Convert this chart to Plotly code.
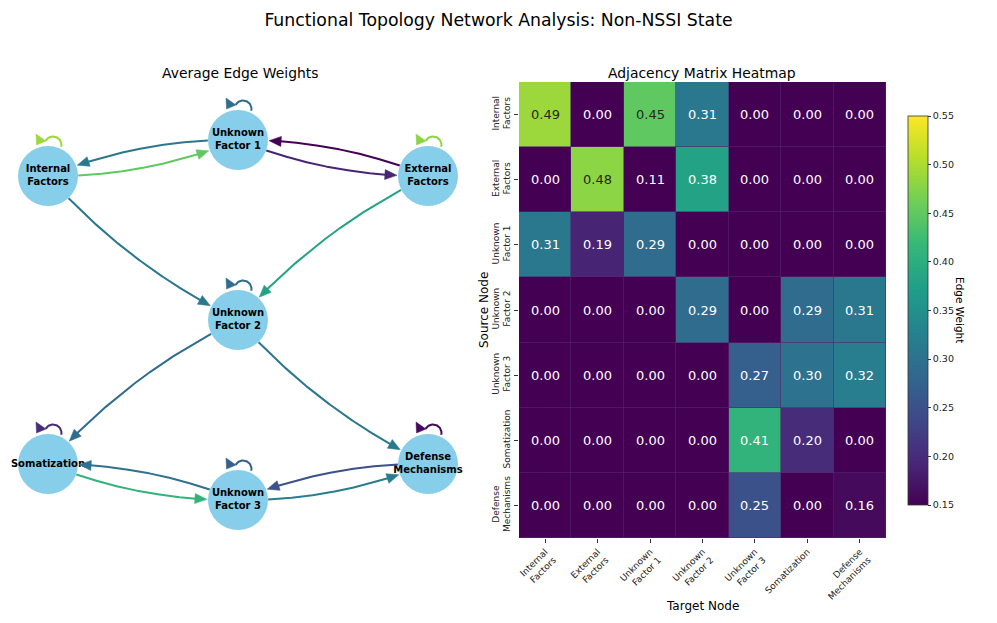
import numpy as np
import plotly.graph_objects as go
import plotly.colors as pc

# ---------------- data ----------------
node_names = ["Internal Factors", "External Factors", "Unknown Factor 1", "Unknown Factor 2",
              "Unknown Factor 3", "Somatization", "Defense Mechanisms"]
node_labels = ["Internal<br>Factors", "External<br>Factors", "Unknown<br>Factor 1", "Unknown<br>Factor 2",
               "Unknown<br>Factor 3", "Somatization", "Defense<br>Mechanisms"]
# network layout coordinates
node_x = [-1, 1, 0, 0, 0, -1, 1]
node_y = [0.8, 0.8, 1, 0, -1, -0.8, -0.8]

# adjacency matrix rows (source) -> columns (target)
w_internal = [0.49, 0.00, 0.45, 0.31, 0.00, 0.00, 0.00]
w_external = [0.00, 0.48, 0.11, 0.38, 0.00, 0.00, 0.00]
w_unknown1 = [0.31, 0.19, 0.29, 0.00, 0.00, 0.00, 0.00]
w_unknown2 = [0.00, 0.00, 0.00, 0.29, 0.00, 0.29, 0.31]
w_unknown3 = [0.00, 0.00, 0.00, 0.00, 0.27, 0.30, 0.32]
w_somat = [0.00, 0.00, 0.00, 0.00, 0.41, 0.20, 0.00]
w_defense = [0.00, 0.00, 0.00, 0.00, 0.25, 0.00, 0.16]
matrix = [w_internal, w_external, w_unknown1, w_unknown2, w_unknown3, w_somat, w_defense]

vmin, vmax = 0.15, 0.55
cbar_ticks = [0.15, 0.20, 0.25, 0.30, 0.35, 0.40, 0.45, 0.50, 0.55]

# ---------------- geometry / style ----------------
W, H = 997, 623
FONT = "DejaVu Sans"
# left panel domain in pixels
LX0, LX1, LY0, LY1 = 0, 476, 90, 550
SX, SY = 190.0, 180.0          # pixels per layout unit
xr = (LX1 - LX0) / 2 / SX
yr_lo = -(LY1 - 320) / SY
yr_hi = (320 - LY0) / SY
NODE_R = 30.0
ARROW_L, ARROW_W = 12.0, 10.0
RAD = 0.1


def cmap(v):
    t = min(max((v - vmin) / (vmax - vmin), 0.0), 1.0)
    return pc.sample_colorscale("Viridis", [t])[0]


def to_rgb(c):
    c = c.strip()
    if c.startswith("#"):
        return [int(c[i:i + 2], 16) for i in (1, 3, 5)]
    nums = c[c.index("(") + 1:c.index(")")].split(",")
    return [float(n) for n in nums[:3]]


def luminance(c):
    rgb = [x / 255.0 for x in to_rgb(c)]
    lin = [x / 12.92 if x <= 0.03928 else ((x + 0.055) / 1.055) ** 2.4 for x in rgb]
    return 0.2126 * lin[0] + 0.7152 * lin[1] + 0.0722 * lin[2]


def px(i):
    return np.array([node_x[i] * SX, node_y[i] * SY])


def back(p):
    return p[0] / SX, p[1] / SY


fig = go.Figure()

# nodes
fig.add_trace(go.Scatter(
    x=node_x, y=node_y, mode="markers+text", text=node_labels,
    textposition="middle center",
    textfont=dict(family=FONT, size=10, color="black", weight="bold"),
    marker=dict(size=2 * NODE_R, color="#87CEEB", line=dict(width=0)),
    hoverinfo="text", hovertext=node_names, showlegend=False,
    xaxis="x", yaxis="y"))

n = len(node_names)
ts = np.linspace(0, 1, 801)
for i in range(n):
    for j in range(n):
        w = matrix[i][j]
        if w <= 0:
            continue
        col = cmap(w)
        if i == j:
            c = px(i)
            ang = np.linspace(np.deg2rad(150), np.deg2rad(-12), 40)
            ctr = c + np.array([5.0, NODE_R + 1.0])
            pts = np.stack([ctr[0] + 8.5 * np.cos(ang), ctr[1] + 8.5 * np.sin(ang)], axis=1)
            lx, ly = zip(*[back(p) for p in pts])
            fig.add_trace(go.Scatter(x=lx, y=ly, mode="lines", line=dict(color=col, width=2),
                                     hoverinfo="skip", showlegend=False, xaxis="x", yaxis="y"))
            tri = [c + np.array([-2.0, NODE_R + 5.0]),
                   c + np.array([-12.0, NODE_R + 12.0]),
                   c + np.array([-11.5, NODE_R + 1.0])]
            tri.append(tri[0])
            tx, ty = zip(*[back(p) for p in tri])
            fig.add_trace(go.Scatter(x=tx, y=ty, mode="lines", fill="toself", fillcolor=col,
                                     line=dict(color=col, width=0.5), hoverinfo="skip",
                                     showlegend=False, xaxis="x", yaxis="y"))
            continue
        p0, p2 = px(i), px(j)
        d = p2 - p0
        mid = (p0 + p2) / 2
        cpt = mid + RAD * np.array([d[1], -d[0]])
        curve = np.array([(1 - t) ** 2 * p0 + 2 * (1 - t) * t * cpt + t ** 2 * p2 for t in ts])
        ds = np.linalg.norm(curve - p0, axis=1)
        de = np.linalg.norm(curve - p2, axis=1)
        k_start = np.argmax(ds > NODE_R)
        k_tip = np.where(de > NODE_R + 1)[0][-1]
        k_base = np.where(de > NODE_R + 1 + ARROW_L)[0][-1]
        tip = curve[k_tip]
        base = curve[k_base]
        seg = curve[k_start:k_base + 3]
        lx, ly = zip(*[back(p) for p in seg])
        fig.add_trace(go.Scatter(x=lx, y=ly, mode="lines", line=dict(color=col, width=2),
                                 hoverinfo="skip", showlegend=False, xaxis="x", yaxis="y"))
        u = (tip - base) / np.linalg.norm(tip - base)
        perp = np.array([-u[1], u[0]])
        b = tip - u * ARROW_L
        tri = [tip, b + perp * ARROW_W / 2, b - perp * ARROW_W / 2, tip]
        tx, ty = zip(*[back(p) for p in tri])
        fig.add_trace(go.Scatter(x=tx, y=ty, mode="lines", fill="toself", fillcolor=col,
                                 line=dict(color=col, width=0.5), hoverinfo="skip",
                                 showlegend=False, xaxis="x", yaxis="y"))

# heatmap
idx = list(range(n))
fig.add_trace(go.Heatmap(
    z=matrix, x=idx, y=idx, colorscale="Viridis", zmin=vmin, zmax=vmax,
    xgap=0.6, ygap=0.6, hoverinfo="z",
    colorbar=dict(
        x=908 / W, xanchor="left", xpad=0, y=1 - 310.5 / H, yanchor="middle", ypad=0,
        len=389 / H, lenmode="fraction", thickness=20, thicknessmode="pixels",
        outlinewidth=0.8, outlinecolor="#333333",
        tickvals=cbar_ticks, ticktext=[f"{v:.2f}" for v in cbar_ticks],
        ticks="outside", ticklen=3, tickwidth=0.8, tickcolor="#333333",
        tickfont=dict(family=FONT, size=9.5, color="#222222")),
    xaxis="x2", yaxis="y2"))

annotations = []
for i in range(n):
    for j in range(n):
        v = matrix[i][j]
        colr = cmap(v)
        tc = "#262626" if luminance(colr) > 0.408 else "white"
        annotations.append(dict(x=j, y=i, xref="x2", yref="y2", text=f"{v:.2f}", showarrow=False,
                                xanchor="center", yanchor="middle",
                                font=dict(family=FONT, size=13, color=tc)))


def paper_text(xp, yp, text, size, angle=0):
    return dict(x=xp / W, y=1 - yp / H, xref="paper", yref="paper", text=text, textangle=angle,
                xanchor="center", yanchor="middle", showarrow=False,
                font=dict(family=FONT, size=size, color="black"))


annotations += [
    paper_text(240, 73, "Average Edge Weights", 13.9),
    paper_text(702, 73, "Adjacency Matrix Heatmap", 13.9),
    paper_text(484, 310, "Source Node", 12, -90),
    paper_text(702, 606, "Target Node", 12),
    paper_text(960, 310, "Edge Weight", 10.5, 90),
]

fig.update_layout(
    width=W, height=H, margin=dict(l=0, r=0, t=0, b=0),
    paper_bgcolor="white", plot_bgcolor="white",
    title=dict(text="Functional Topology Network Analysis: Non-NSSI State", x=0.5, xanchor="center",
               y=1 - 20 / H, yanchor="middle", font=dict(family=FONT, size=17.3, color="black")),
    showlegend=False,
    xaxis=dict(domain=[LX0 / W, LX1 / W], range=[-xr, xr], visible=False, fixedrange=True),
    yaxis=dict(domain=[1 - LY1 / H, 1 - LY0 / H], range=[yr_lo, yr_hi], visible=False, fixedrange=True),
    xaxis2=dict(domain=[519 / W, 886 / W], range=[-0.5, n - 0.5], tickvals=idx, ticktext=node_labels,
                tickangle=-45, ticks="outside", ticklen=4, tickwidth=0.8, tickcolor="#333333",
                showgrid=False, zeroline=False, showline=False,
                tickfont=dict(family=FONT, size=9, color="#222222"), anchor="y2"),
    yaxis2=dict(domain=[1 - 538 / H, 1 - 82 / H], range=[n - 0.5, -0.5], tickvals=idx,
                ticktext=node_labels, tickangle=-90, ticks="outside", ticklen=4, tickwidth=0.8,
                tickcolor="#333333", showgrid=False, zeroline=False, showline=False,
                tickfont=dict(family=FONT, size=9, color="#222222"), anchor="x2"),
    annotations=annotations,
    shapes=[dict(type="rect", xref="x2", yref="y2", x0=-0.5, x1=n - 0.5, y0=-0.5, y1=n - 0.5,
                 fillcolor="#54276f", line=dict(width=0), layer="below")],
)

fig.write_html("out.html", config={"displayModeBar": False},
               post_script="document.body.style.margin='0';document.body.style.padding='0';")
